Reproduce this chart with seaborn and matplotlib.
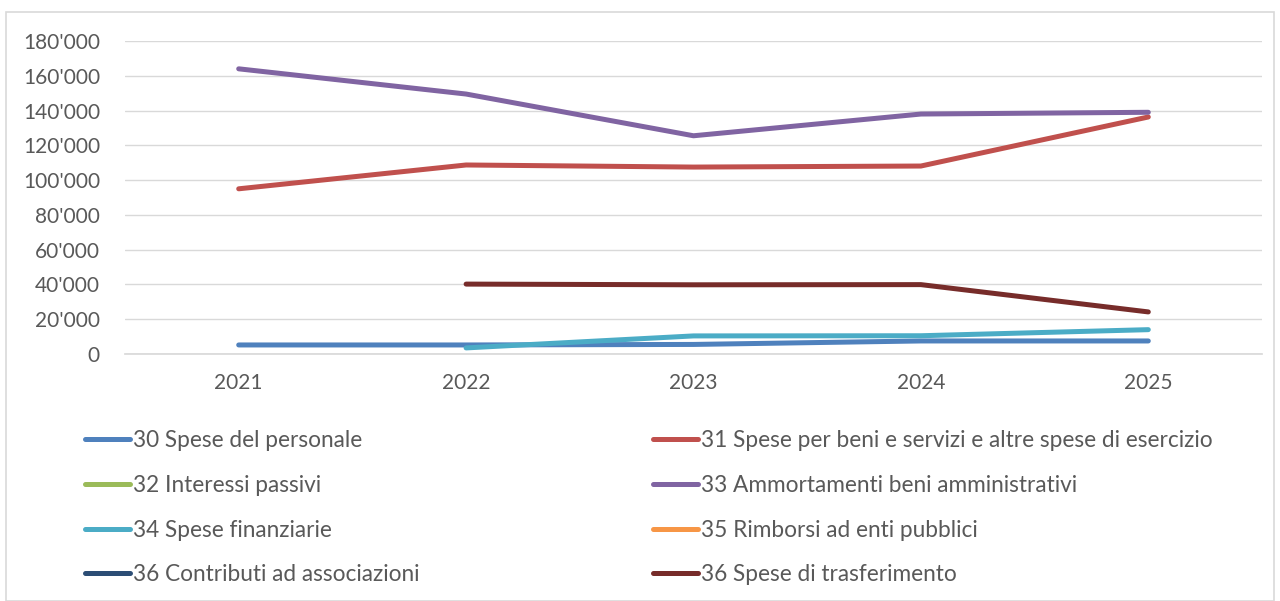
import numpy as np
import pandas as pd
import matplotlib
matplotlib.use('Agg')
import matplotlib.pyplot as plt
from matplotlib.lines import Line2D
from matplotlib.patches import Rectangle
from matplotlib.ticker import FuncFormatter
import seaborn as sns

# data
years = ['2021', '2022', '2023', '2024', '2025']
personale = [5200, 5200, 5500, 7500, 7500]
beni_servizi = [95000, 108700, 107500, 108100, 136300]
interessi = [np.nan, np.nan, np.nan, np.nan, np.nan]
ammortamenti = [164000, 149500, 125500, 138000, 139000]
finanziarie = [np.nan, 3500, 10400, 10500, 14000]
rimborsi = [np.nan, np.nan, np.nan, np.nan, np.nan]
contributi = [np.nan, np.nan, np.nan, np.nan, np.nan]
trasferimento = [np.nan, 40200, 39800, 39900, 24200]

labels = ['30 Spese del personale',
          '31 Spese per beni e servizi e altre spese di esercizio',
          '32 Interessi passivi',
          '33 Ammortamenti beni amministrativi',
          '34 Spese finanziarie',
          '35 Rimborsi ad enti pubblici',
          '36 Contributi ad associazioni',
          '36 Spese di trasferimento']
series = [personale, beni_servizi, interessi, ammortamenti,
          finanziarie, rimborsi, contributi, trasferimento]
colors = ['#4F81BD', '#C0504D', '#9BBB59', '#8064A2',
          '#4BACC6', '#F79646', '#2C4D75', '#772C2A']

sns.set_theme(style='white')
plt.rcParams['font.family'] = ['Lato', 'DejaVu Sans']

fig = plt.figure(figsize=(12.8, 6.01), dpi=100)
ax = fig.add_axes([125/1280, 1-354/601, (1262-125)/1280, (354-41)/601])

# outer frame
fig.patches.append(Rectangle((6/1280, 0), 1268/1280, 1-12/601, transform=fig.transFigure,
                             fill=False, edgecolor='#d9d9d9', linewidth=1.2))

for vals, lab, col in zip(series, labels, colors):
    df = pd.DataFrame({'year': years, 'value': vals}).dropna()
    if len(df) == 0:
        continue
    sns.lineplot(data=df, x='year', y='value', ax=ax, color=col, linewidth=3.6,
                 solid_capstyle='round', solid_joinstyle='round', legend=False)

ax.set_xlim(-0.5, 4.5)
ax.set_ylim(0, 180000)
ax.set_yticks(range(0, 180001, 20000))
ax.yaxis.set_major_formatter(FuncFormatter(lambda v, p: f"{int(v):,}".replace(',', "'")))
ax.grid(axis='y', color='#d9d9d9', linewidth=1)
ax.set_axisbelow(True)
for s in ['top', 'right', 'left']:
    ax.spines[s].set_visible(False)
ax.spines['bottom'].set_color('#d9d9d9')
ax.set_xlabel('')
ax.set_ylabel('')
ax.tick_params(axis='both', length=0, labelsize=15, colors='#595959')
ax.tick_params(axis='y', pad=18)
ax.tick_params(axis='x', pad=14)

handles = [Line2D([0], [0], color=c, linewidth=3.6, solid_capstyle='round') for c in colors]
left_idx = [0, 2, 4, 6]
right_idx = [1, 3, 5, 7]
for idx, x0 in [(left_idx, 85), (right_idx, 653)]:
    leg = fig.legend([handles[i] for i in idx], [labels[i] for i in idx],
                     loc='upper left', bbox_to_anchor=(x0/1280, 1-430/601),
                     frameon=False, fontsize=16.3, handlelength=2.0,
                     handletextpad=0.1, labelspacing=1.05,
                     borderpad=0, borderaxespad=0)
    for t in leg.get_texts():
        t.set_color('#595959')

fig.savefig('out.png', dpi=100)
